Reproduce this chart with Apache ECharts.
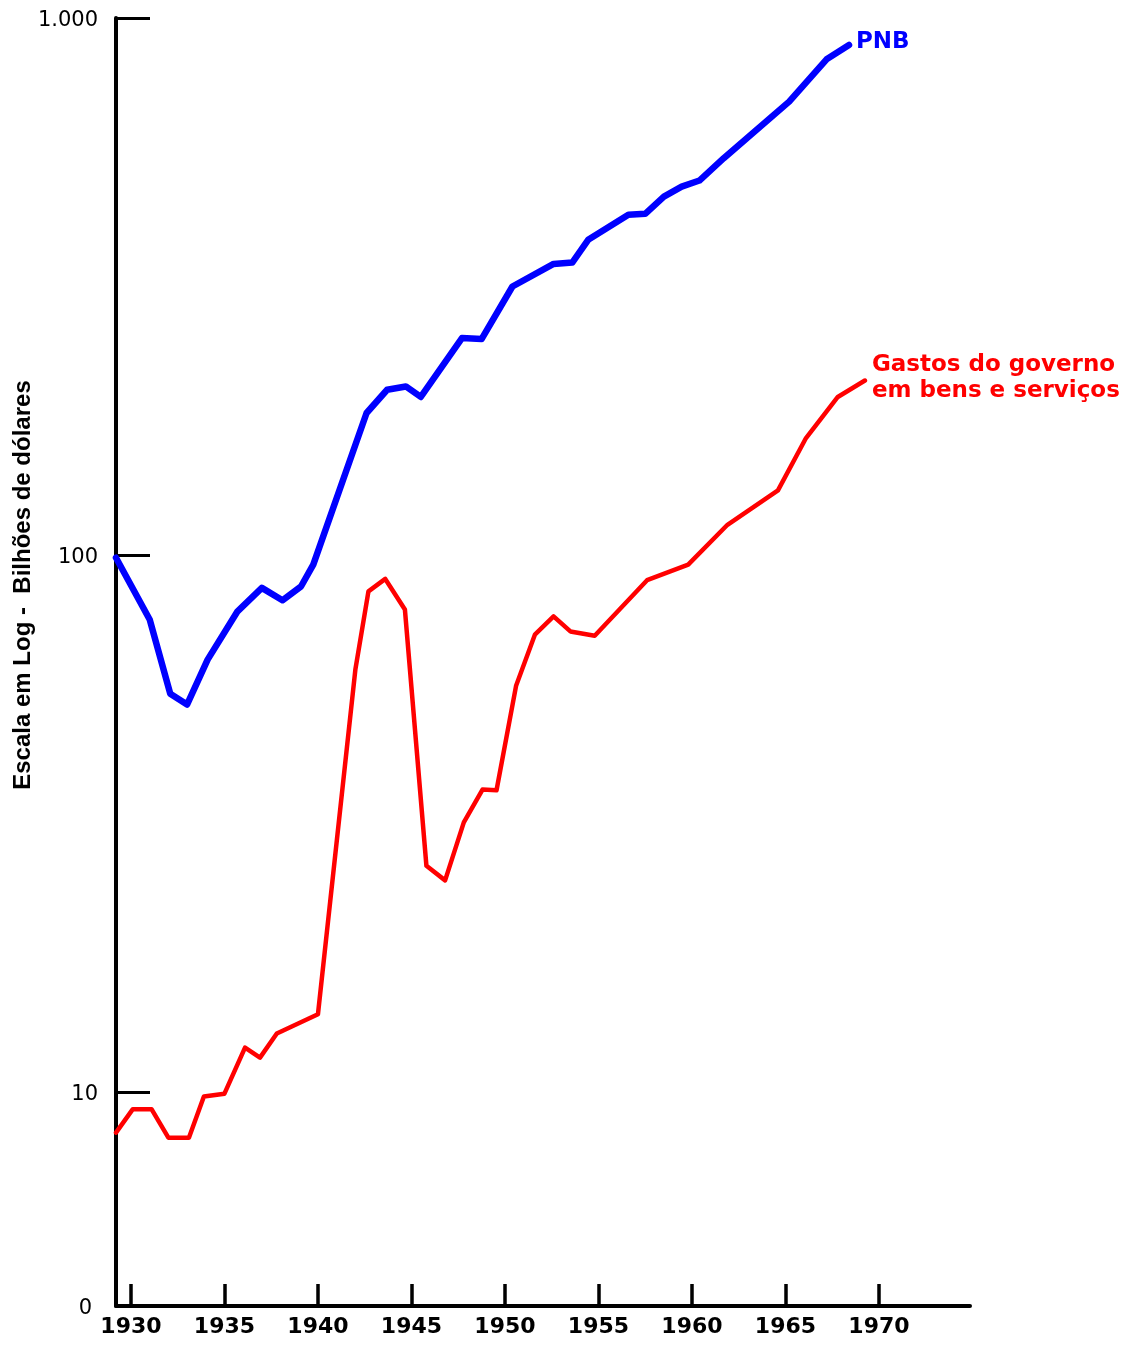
<!DOCTYPE html>
<html>
<head>
<meta charset="utf-8">
<script src="https://cdn.jsdelivr.net/npm/echarts@6/dist/echarts.min.js"></script>
<style>
html,body{margin:0;padding:0;background:#fff;}
#chart{width:1130px;height:1346px;}
</style>
</head>
<body>
<div id="chart"></div>
<script>
// Years (x positions of the line vertices) and values (billions of dollars, log scale)
var pnbYears = [1929.2, 1931.0, 1932.1, 1933.0, 1934.1, 1935.7, 1937.0, 1938.1, 1939.1, 1939.75, 1942.6, 1943.7, 1944.7, 1945.5, 1947.7, 1948.75, 1950.4, 1952.6, 1953.6, 1954.45, 1956.6, 1957.5, 1958.5, 1959.45, 1960.4, 1961.7, 1965.2, 1967.2, 1968.4];
var pnbValues = [98.9, 75.9, 55.2, 52.7, 63.9, 78.6, 86.9, 82.4, 87.5, 96.0, 183.9, 203.2, 206.1, 197.0, 253.6, 252.5, 316.3, 348.5, 350.5, 386.4, 430.2, 431.9, 465.1, 485.5, 498.2, 548.3, 698.7, 837.8, 890.8];

var gastosYears = [1929.2, 1930.1, 1931.1, 1932.0, 1933.1, 1933.9, 1935.0, 1936.1, 1936.9, 1937.8, 1940.0, 1942.0, 1942.7, 1943.6, 1944.65, 1945.8, 1946.8, 1947.8, 1948.8, 1949.55, 1950.6, 1951.6, 1952.6, 1953.5, 1954.8, 1957.6, 1959.8, 1961.9, 1964.6, 1966.1, 1967.8, 1969.25];
var gastosValues = [8.41, 9.30, 9.30, 8.23, 8.23, 9.82, 9.94, 12.11, 11.60, 12.86, 13.97, 61.2, 85.6, 90.3, 79.2, 26.4, 24.8, 31.8, 36.6, 36.5, 57.2, 71.1, 76.9, 72.1, 70.8, 89.8, 96.0, 113.9, 132.0, 165.2, 197.0, 211.4];

var xTickYears = [1930, 1935, 1940, 1945, 1950, 1955, 1960, 1965, 1970];
var yTickValues = [10, 100, 1000];
var yLabelValues = [4, 10, 100, 1000];

var seriesNames = ['PNB', 'Gastos do governo\nem bens e serviços'];
var yAxisTitle = 'Escala em Log -  Bilhões de dólares';

function pairs(xs, ys) {
  return xs.map(function (x, i) { return [x, ys[i]]; });
}

var chart = echarts.init(document.getElementById('chart'), null, {renderer: 'canvas'});
chart.setOption({
  animation: false,
  backgroundColor: '#ffffff',
  grid: {left: 116, right: 160, top: 18, bottom: 40, containLabel: false},
  xAxis: {
    type: 'value',
    min: 1929.2,
    max: 1974.87,
    splitLine: {show: false},
    axisLine: {show: true, lineStyle: {color: '#000', width: 4}},
    axisTick: {show: true, inside: true, length: 22, customValues: xTickYears, lineStyle: {color: '#000', width: 3.5}},
    axisLabel: {
      customValues: xTickYears,
      color: '#000', fontFamily: 'DejaVu Sans', fontWeight: 'bold', fontSize: 22, margin: 10,
      formatter: function (v) { return String(Math.round(v)); }
    }
  },
  yAxis: {
    type: 'log',
    logBase: 10,
    min: 4,
    max: 1000,
    splitLine: {show: false},
    axisLine: {show: true, lineStyle: {color: '#000', width: 4}},
    axisTick: {show: true, inside: true, length: 34, customValues: yTickValues, lineStyle: {color: '#000', width: 3}},
    axisLabel: {
      customValues: yLabelValues,
      color: '#000', fontFamily: 'DejaVu Sans', fontSize: 21, margin: 18,
      padding: [5, 0, 0, 0],
      formatter: function (v) {
        if (v < 5) return '{z|0}';
        if (v >= 1000) return '1.000';
        return String(Math.round(v));
      },
      rich: {z: {color: '#000', fontFamily: 'DejaVu Sans', fontSize: 21, padding: [0, 6, 0, 0]}}
    }
  },
  graphic: [{
    type: 'text',
    x: 23, y: 585,
    rotation: Math.PI / 2,
    style: {
      text: yAxisTitle,
      fill: '#000',
      font: 'bold 24px "Liberation Sans", Arial, sans-serif',
      textAlign: 'center',
      textVerticalAlign: 'middle'
    }
  }],
  series: [{
    name: seriesNames[0],
    type: 'line',
    data: pairs(pnbYears, pnbValues),
    showSymbol: false,
    symbol: 'none',
    lineStyle: {color: '#0000ff', width: 6.5, cap: 'round', join: 'round'},
    itemStyle: {color: '#0000ff'},
    endLabel: {
      show: true, formatter: '{a}', color: '#0000ff',
      fontFamily: 'DejaVu Sans', fontWeight: 'bold', fontSize: 23,
      distance: 7, offset: [0, -3]
    }
  }, {
    name: seriesNames[1],
    type: 'line',
    data: pairs(gastosYears, gastosValues),
    showSymbol: false,
    symbol: 'none',
    lineStyle: {color: '#ff0000', width: 4.5, cap: 'round', join: 'round'},
    itemStyle: {color: '#ff0000'},
    endLabel: {
      show: true, formatter: '{a}', color: '#ff0000',
      fontFamily: 'DejaVu Sans', fontWeight: 'bold', fontSize: 23, lineHeight: 26,
      distance: 7, offset: [0, -2]
    }
  }]
});
</script>
</body>
</html>
